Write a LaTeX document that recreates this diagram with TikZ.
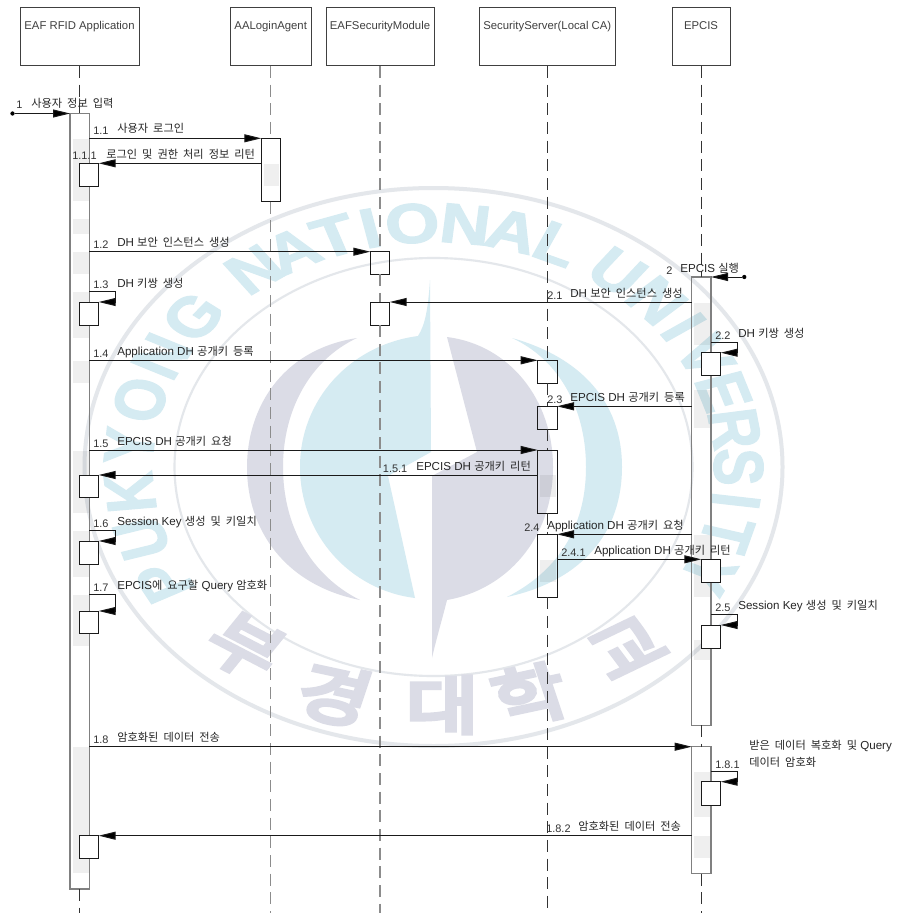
\documentclass[tikz,border=0pt]{standalone}
\usepackage{fontspec}
\setmainfont{Liberation Sans}
\newfontfamily\krfont[WordSpace=2]{Noto Sans CJK KR}
\newfontfamily\krbold[FakeBold=7]{Noto Sans CJK KR}
\newfontfamily\wmfont[FakeBold=2]{Liberation Sans Bold}
\newcommand\kr[1]{{\krfont\fontsize{8.4pt}{10pt}\selectfont #1}}
\usetikzlibrary{arrows.meta,calc}
\definecolor{wblue}{HTML}{D5EBF2}
\definecolor{wgrey}{HTML}{DBDCE6}
\definecolor{wring}{HTML}{E4E7EB}
\definecolor{patch}{HTML}{EFEFEF}
\definecolor{inkc}{HTML}{1A1A1A}
\tikzset{
  headbox/.style={draw=black!75,line width=.75pt,fill=white,inner sep=0pt,outer sep=0pt},
  headtext/.style={anchor=base,inner sep=0pt,font=\fontsize{8.5pt}{10pt}\selectfont,text=black!75},
  subbar/.style={draw=inkc,line width=.75pt,inner sep=0pt,outer sep=0pt},
  smallbox/.style={draw=inkc,line width=.75pt,fill=white,inner sep=0pt,outer sep=0pt},
  mainbar/.style={draw=black!50,line width=1pt,inner sep=0pt,outer sep=0pt},
  lifea/.style={draw=black!45,line width=.9pt,dash pattern=on 9pt off 5pt},
  lifeb/.style={draw=black!80,line width=.7pt,dash pattern=on 9pt off 5pt},
  msg/.style={draw=inkc,line width=.75pt,-{Triangle[length=12.75pt,width=6pt,fill=black]}},
  lbl/.style={anchor=base west,inner sep=0pt,font=\fontsize{8.7pt}{10pt}\selectfont,text=black!85},
  num/.style={anchor=base west,inner sep=0pt,font=\fontsize{8.2pt}{10pt}\selectfont,text=black!80},
  dotn/.style={circle,fill=black,inner sep=0pt,minimum size=3.2pt,outer sep=0pt},
  wlet/.style={inner sep=0pt,text=wblue,transform shape,font=\wmfont\fontsize{42pt}{44pt}\selectfont},
  wkor/.style={inner sep=0pt,text=wgrey,transform shape,font=\krbold\fontsize{47pt}{49pt}\selectfont},
}
% style, name, x1, y1, x2, y2 (pixels)
\newcommand\actbox[6]{%
  \pgfmathsetmacro\bw{(#5-#3)*0.75}\pgfmathsetmacro\bh{(#6-#4)*0.75}%
  \node[#1,anchor=north west,minimum width=\bw pt,minimum height=\bh pt] (#2) at (#3,#4) {};}
\newcommand\patchbox[4]{\fill[patch,blend mode=multiply] (#1,#2) rectangle (#3,#4);}
\begin{document}
\begin{tikzpicture}[x=0.75pt,y=-0.75pt]
\path[use as bounding box,fill=white] (0,0) rectangle (896,913);
\coordinate (bot) at (0,913);
% watermark
\draw[wring,line width=3pt] (433.5,467) ellipse [x radius=349,y radius=279];
\draw[wring,line width=1.6pt] (433.5,467) ellipse [x radius=259,y radius=209];
\fill[wgrey] (357,338) .. controls (280,350) and (247,410) .. (247,467)
  .. controls (247,530) and (285,585) .. (360,600)
  .. controls (310,575) and (283,525) .. (283,467)
  .. controls (283,410) and (310,360) .. (357,338) -- cycle;
\fill[wblue] (512,338) .. controls (590,360) and (622,410) .. (622,467)
  .. controls (622,530) and (585,580) .. (507,597)
  .. controls (560,570) and (586,525) .. (586,467)
  .. controls (586,410) and (560,360) .. (512,338) -- cycle;
\fill[wblue] (430,280) .. controls (428,310) and (425,325) .. (418,336)
  .. controls (350,345) and (300,400) .. (300,467)
  .. controls (300,535) and (350,590) .. (415,598)
  -- (388,476) -- (431,452) -- cycle;
\fill[wgrey] (447,337) .. controls (510,345) and (553,400) .. (553,467)
  .. controls (553,540) and (505,590) .. (447,600)
  .. controls (442,620) and (436,640) .. (432,658)
  -- (432,476) -- (477,452) -- cycle;
\begin{scope}[shift={(433.5,467)},xscale=1.25]
\foreach \c/\t [count=\i] in {P/-118,U/-107,K/-96,Y/-85,O/-74,N/-63,G/-52,
  N/-36,A/-27.5,T/-19,I/-12,O/-4,N/6,A/15,L/24,
  U/37,N/47,I/55,V/63,E/72,R/81,S/90,I/98,T/106,Y/116}
  \node[wlet,rotate=-\t] (wl\i) at ({244*sin(\t)},{-244*cos(\t)}) {\c};
\foreach \c/\xx/\yy/\r [count=\i] in {부/-151/180/-33,경/-79/228/-15,대/7/238/0,학/77/228/15,교/155/181/31}
  \node[wkor,rotate=\r] (wk\i) at (\xx,\yy) {\c};
\end{scope}
% heads
\actbox{headbox}{hApp}{20}{8}{139}{66}
\actbox{headbox}{hAg}{230.5}{8}{311}{66}
\actbox{headbox}{hSec}{326}{8}{434}{66}
\actbox{headbox}{hSrv}{479.3}{8}{615.7}{66}
\actbox{headbox}{hEp}{672.3}{8}{730.3}{66}
\node[headtext] (tApp) at (79.5,30) {EAF RFID Application};
\node[headtext] (tAg) at (270.7,30) {AALoginAgent};
\node[headtext] (tSec) at (380,30) {EAFSecurityModule};
\node[headtext] (tSrv) at (547.3,30) {SecurityServer(Local CA)};
\node[headtext] (tEp) at (701,30) {EPCIS};
% activation bars
\actbox{mainbar}{app}{70}{113.5}{89.3}{889}
\actbox{subbar}{ag}{261.3}{138.3}{280.3}{201.7}
\actbox{mainbar}{epa}{691.7}{277}{711}{725.3}
\actbox{mainbar}{epb}{691.7}{746.7}{711}{873.7}
\actbox{subbar}{sr14}{537.7}{360.3}{557}{383.3}
\actbox{subbar}{sr23}{537.7}{406.3}{557}{429.3}
\actbox{subbar}{sr15}{537.7}{450}{557}{513.3}
\actbox{subbar}{sr24}{537.7}{534.3}{557}{597.3}
\actbox{subbar}{se12}{370.3}{251.7}{389.7}{274.3}
\actbox{subbar}{se21}{370.3}{302}{389.7}{325}
% lifelines, broken at the activation bars
\draw[lifeb] (hApp.south) -- (hApp.south |- app.north);
\draw[lifeb] (hApp.south |- app.south) -- (hApp.south |- bot);
\draw[lifea] (hAg.south) -- (hAg.south |- ag.north);
\draw[lifea] (hAg.south |- ag.south) -- (hAg.south |- bot);
\draw[lifea] (hSec.south) -- (hSec.south |- se12.north);
\draw[lifea] (hSec.south |- se12.south) -- (hSec.south |- se21.north);
\draw[lifea] (hSec.south |- se21.south) -- (hSec.south |- bot);
\draw[lifeb] (hSrv.south) -- (hSrv.south |- sr14.north);
\draw[lifeb] (hSrv.south |- sr14.south) -- (hSrv.south |- sr23.north);
\draw[lifeb] (hSrv.south |- sr23.south) -- (hSrv.south |- sr15.north);
\draw[lifeb] (hSrv.south |- sr15.south) -- (hSrv.south |- sr24.north);
\draw[lifeb] (hSrv.south |- sr24.south) -- (hSrv.south |- bot);
\draw[lifeb] (hEp.south) -- (hEp.south |- epa.north);
\draw[lifeb] (hEp.south |- epa.south) -- (hEp.south |- epb.north);
\draw[lifeb] (hEp.south |- epb.south) -- (hEp.south |- bot);
% shadow patches
\patchbox{73}{139}{88.5}{200.7}
\patchbox{73}{219}{88.5}{233.7}
\patchbox{73}{252}{88.5}{274}
\patchbox{73}{292}{88.5}{338}
\patchbox{73}{361}{88.5}{383}
\patchbox{73}{451}{88.5}{512.7}
\patchbox{73}{531}{88.5}{577}
\patchbox{73}{595}{88.5}{646}
\patchbox{73}{746.7}{88.5}{873}
\patchbox{264}{164}{279}{186}
\patchbox{540}{475}{556}{497}
\patchbox{540}{560}{556}{582}
\patchbox{694}{303}{710}{345}
\patchbox{694}{390}{710}{428}
\patchbox{694}{535}{710}{597}
\patchbox{694}{640}{710}{660}
\patchbox{694}{771.7}{710}{817}
\patchbox{694}{835.7}{710}{857.7}
% small boxes on main bars
\actbox{smallbox}{a111}{79.3}{163.3}{98.7}{186.3}
\actbox{smallbox}{a13}{79.3}{302}{98.7}{325}
\actbox{smallbox}{a151}{79.3}{475}{98.7}{497.7}
\actbox{smallbox}{a16}{79.3}{541}{98.7}{564}
\actbox{smallbox}{a17}{79.3}{611}{98.7}{633.7}
\actbox{smallbox}{a182}{79.3}{835.7}{98.7}{858.3}
\actbox{smallbox}{e22}{701.3}{352.7}{720.7}{375.3}
\actbox{smallbox}{e241}{701.3}{559.3}{720.7}{582}
\actbox{smallbox}{e25}{701.3}{625}{720.7}{648}
\actbox{smallbox}{e181}{701.3}{781.7}{720.7}{805}
% message anchors
\node[dotn] (d1) at (12.5,113.5) {};
\node[dotn] (d2) at (744.3,277) {};
\coordinate (l13) at (115,291.7);
\coordinate (l16) at (115,530.7);
\coordinate (l17) at (115,594.3);
\coordinate (l22) at (737,342.4);
\coordinate (l25) at (737,614.7);
\coordinate (l181) at (737,771.3);
% messages
\draw[msg] (d1) -- (app.west |- d1);
\draw[msg] (app.east |- ag.north) -- (ag.north west);
\draw[msg] (ag.west |- a111.north) -- (a111.north east);
\draw[msg] (app.east |- se12.north) -- (se12.north west);
\draw[msg] (app.east |- l13) -- (l13) |- (a13.north east);
\draw[msg] (app.east |- sr14.north) -- (sr14.north west);
\draw[msg] (app.east |- sr15.north) -- (sr15.north west);
\draw[msg] (sr15.west |- a151.north) -- (a151.north east);
\draw[msg] (app.east |- l16) -- (l16) |- (a16.north east);
\draw[msg] (app.east |- l17) -- (l17) |- (a17.north east);
\draw[msg] (app.east |- epb.north) -- (epb.north west);
\draw[msg] (epb.east |- l181) -- (l181) |- (e181.north east);
\draw[msg] (epb.west |- a182.north) -- (a182.north east);
\draw[msg] (d2) -- (epa.east |- d2);
\draw[msg] (epa.west |- se21.north) -- (se21.north east);
\draw[msg] (epa.east |- l22) -- (l22) |- (e22.north east);
\draw[msg] (epa.west |- sr23.north) -- (sr23.north east);
\draw[msg] (epa.west |- sr24.north) -- (sr24.north east);
\draw[msg] (sr24.east |- e241.north) -- (e241.north west);
\draw[msg] (epa.east |- l25) -- (l25) |- (e25.north east);
% labels
\node[num] (n1) at (16,109) {1};
\node[lbl] (m1) at (31,108) {\kr{사용자 정보 입력}};
\node[num] (n11) at (93,135) {1.1};
\node[lbl] (m11) at (117,133) {\kr{사용자 로그인}};
\node[num] (n111) at (72,160) {1.1.1};
\node[lbl] (m111) at (106,158) {\kr{로그인 및 권한 처리 정보 리턴}};
\node[num] (n12) at (93,248) {1.2};
\node[lbl] (m12) at (117,246) {DH \kr{보안 인스턴스 생성}};
\node[num] (n13) at (93,288) {1.3};
\node[lbl] (m13) at (117,287) {DH \kr{키쌍 생성}};
\node[num] (n14) at (93,357) {1.4};
\node[lbl] (m14) at (117,355) {Application DH \kr{공개키 등록}};
\node[num] (n15) at (93,447) {1.5};
\node[lbl] (m15) at (117,445) {EPCIS DH \kr{공개키 요청}};
\node[num] (n151) at (382.7,472) {1.5.1};
\node[lbl] (m151) at (416,470) {EPCIS DH \kr{공개키 리턴}};
\node[num] (n16) at (93,527) {1.6};
\node[lbl] (m16) at (117,525) {Session Key \kr{생성 및 키일치}};
\node[num] (n17) at (93,591) {1.7};
\node[lbl] (m17) at (117,589) {EPCIS\kr{에 요구할} Query \kr{암호화}};
\node[num] (n18) at (93,743) {1.8};
\node[lbl] (m18) at (117,741) {\kr{암호화된 데이터 전송}};
\node[num] (n181) at (715,768) {1.8.1};
\node[lbl] (m181a) at (749,749) {\kr{받은 데이터 복호화 및} Query};
\node[lbl] (m181b) at (749,766.5) {\kr{데이터 암호화}};
\node[num] (n182) at (546,832) {1.8.2};
\node[lbl] (m182) at (578,830.5) {\kr{암호화된 데이터 전송}};
\node[num] (n2) at (666,274) {2};
\node[lbl] (m2) at (680,272) {EPCIS \kr{실행}};
\node[num] (n21) at (547,299) {2.1};
\node[lbl] (m21) at (570,297) {DH \kr{보안 인스턴스 생성}};
\node[num] (n22) at (715,339) {2.2};
\node[lbl] (m22) at (738,337) {DH \kr{키쌍 생성}};
\node[num] (n23) at (547,403) {2.3};
\node[lbl] (m23) at (570,401) {EPCIS DH \kr{공개키 등록}};
\node[num] (n24) at (524,531) {2.4};
\node[lbl] (m24) at (547,529) {Application DH \kr{공개키 요청}};
\node[num] (n241) at (561,556) {2.4.1};
\node[lbl] (m241) at (594,554) {Application DH \kr{공개키 리턴}};
\node[num] (n25) at (715,611) {2.5};
\node[lbl] (m25) at (738,609) {Session Key \kr{생성 및 키일치}};
\end{tikzpicture}
\end{document}
